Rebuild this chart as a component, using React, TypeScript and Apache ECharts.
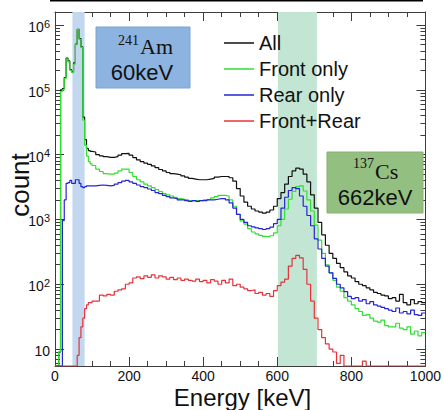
import React, { useEffect, useRef } from "react";
import * as echarts from "echarts";

// ---------- data ----------
const seriesNames = ["All", "Front only", "Rear only", "Front+Rear"];
const seriesColors = ["#111111", "#2fe02f", "#2424d6", "#e8323a"];

// histogram bin starts (keV): 5 keV bins below 100 keV, 10 keV bins above
const fineBinStarts = [0, 5, 10, 15, 20, 25, 30, 35, 40, 45, 50, 55, 60, 65, 70, 75, 80, 85, 90, 95];
const coarseBinStarts = Array.from({ length: 90 }, (_, i) => 100 + 10 * i);
const binStartKeV = [...fineBinStarts, ...coarseBinStarts];
const histEndKeV = 1000;

const allCounts = [
  0, 0, 9, 1.0e5, 1.05e5, 1.55e5, 3.1e5, 2.8e5, 2.05e5, 1.9e5, 2.6e5, 5.1e5, 8.6e5, 6.2e5, 4.6e5, 3.8e4, 1.7e4, 1.25e4, 1.15e4, 1.12e4,
  1.1e4, 1.0e4, 9.6e3, 9.3e3, 9.1e3, 9.1e3, 9.3e3, 9.8e3, 1.04e4, 1.05e4,
  9.8e3, 9.0e3, 8.3e3, 7.8e3, 7.4e3, 7.1e3, 6.7e3, 6.3e3, 5.9e3, 5.6e3,
  5.3e3, 5.1e3, 5.0e3, 4.9e3, 4.7e3, 4.5e3, 4.3e3, 4.2e3, 4.1e3, 4.1e3,
  4.1e3, 4.2e3, 4.3e3, 4.5e3, 4.6e3, 4.6e3, 4.6e3, 4.4e3, 3.9e3, 3.0e3,
  2.3e3, 1.85e3, 1.6e3, 1.45e3, 1.35e3, 1.3e3, 1.25e3, 1.3e3, 1.4e3, 1.6e3,
  2.1e3, 2.6e3, 3.5e3, 4.6e3, 5.6e3, 6.2e3, 6.0e3, 5.0e3, 3.8e3, 2.4e3,
  1.5e3, 900, 580, 400, 300, 250, 210, 180, 155, 135,
  125, 110, 100, 95, 88, 82, 75, 72, 68, 66,
  60, 62, 55, 70, 52, 48, 58, 50, 54, 52,
];

const frontOnly = [
  0, 0, 9, 9.5e4, 1.0e5, 1.5e5, 3.0e5, 2.7e5, 2.0e5, 1.85e5, 2.5e5, 5.0e5, 8.5e5, 6.0e5, 4.5e5, 3.4e4, 1.4e4, 9.5e3, 7.8e3, 7.2e3,
  6.8e3, 6.0e3, 5.5e3, 5.1e3, 5.0e3, 5.0e3, 5.2e3, 5.6e3, 6.0e3, 6.0e3,
  5.3e3, 4.6e3, 4.1e3, 3.8e3, 3.5e3, 3.3e3, 3.1e3, 2.9e3, 2.7e3, 2.5e3,
  2.4e3, 2.3e3, 2.2e3, 2.1e3, 2.05e3, 2.0e3, 1.95e3, 1.95e3, 1.95e3, 1.95e3,
  2.0e3, 2.05e3, 2.15e3, 2.25e3, 2.35e3, 2.35e3, 2.3e3, 2.0e3, 1.6e3, 1.2e3,
  950, 850, 720, 640, 600, 570, 550, 540, 560, 620,
  800, 1.0e3, 1.45e3, 2.05e3, 2.7e3, 3.2e3, 3.3e3, 2.75e3, 2.0e3, 1.35e3,
  820, 480, 300, 200, 150, 115, 90, 78, 62, 55,
  48, 42, 38, 33, 34, 30, 27, 26, 28, 23,
  22, 22, 25, 21, 20, 22, 17, 19, 16, 18,
];

const rearOnly = [
  0, 0, 0, 0, 960, 2.0e3, 3.6e3, 3.7e3, 4.0e3, 3.6e3, 3.6e3, 4.1e3, 4.1e3, 3.6e3, 3.2e3, 3.1e3, 3.2e3, 3.3e3, 3.3e3, 3.3e3,
  3.3e3, 3.35e3, 3.4e3, 3.35e3, 3.3e3, 3.35e3, 3.5e3, 3.7e3, 3.9e3, 4.0e3,
  3.8e3, 3.6e3, 3.4e3, 3.2e3, 3.1e3, 2.95e3, 2.8e3, 2.6e3, 2.5e3, 2.35e3,
  2.25e3, 2.15e3, 2.1e3, 2.0e3, 2.0e3, 1.95e3, 1.9e3, 1.95e3, 1.9e3, 1.95e3,
  1.95e3, 2.0e3, 2.0e3, 2.05e3, 2.1e3, 2.1e3, 2.0e3, 1.8e3, 1.5e3, 1.2e3,
  1.0e3, 900, 800, 770, 740, 720, 700, 720, 760, 860,
  1.0e3, 1.5e3, 2.2e3, 2.8e3, 3.1e3, 3.0e3, 2.3e3, 1.6e3, 1.15e3, 800,
  500, 350, 250, 190, 150, 123, 100, 88, 77, 65,
  60, 62, 55, 58, 50, 54, 48, 46, 44, 42,
  40, 38, 43, 36, 38, 35, 40, 34, 33, 36,
];

const frontRear = [
  0, 0, 0, 0, 0, 0, 0, 0, 0, 0, 0, 0, 8, 15, 22, 30, 42, 48, 52, 52,
  55, 55, 68, 66, 70, 68, 78, 82, 85, 100,
  105, 125, 130, 122, 135, 128, 140, 125, 135, 130,
  120, 128, 118, 125, 115, 120, 115, 112, 120, 110,
  115, 105, 118, 112, 100, 115, 105, 120, 95, 100,
  90, 85, 80, 82, 72, 75, 68, 72, 65, 80,
  95, 108, 120, 190, 250, 280, 255, 170, 100, 55,
  30, 20, 15, 12, 10, 9, 6, 8, 0, 0,
  0, 0, 0, 6.5, 0, 0, 0, 0, 0, 0,
  0, 0, 0, 0, 0, 0, 0, 0, 0, 0,
];

const seriesValues = [allCounts, frontOnly, rearOnly, frontRear];

// highlighted energy windows (keV)
const amWindow = [47, 80];
const csWindow = [602, 707];

// axis ranges and ticks
const yMin = Math.pow(10, 0.7385);
const yMax = Math.pow(10, 6.2015);
const decadeTicks = [10, 100, 1000, 10000, 100000, 1000000];
const minorTicks: number[] = [];
for (let p = 0; p <= 6; p++) {
  for (let k = 2; k <= 9; k++) {
    const v = k * Math.pow(10, p);
    if (v > yMin && v < yMax) minorTicks.push(v);
  }
}
const xTickLabels = [0, 200, 400, 600, 800, 1000];

// ---------- helpers ----------
const SANS = "'Liberation Sans', Arial, Helvetica, sans-serif";
const SERIF = "'Liberation Serif', 'Times New Roman', serif";
const AXIS_COLOR = "#3c3c3c";
const TEXT_COLOR = "#111111";

function toStep(values: number[]) {
  const shown = (v: number) => (v > 0 ? v : yMin);
  const pts = binStartKeV.map((e, i) => [e, shown(values[i])]);
  pts.push([histEndKeV, shown(values[values.length - 1])]);
  return pts;
}

function yLabel(v: number) {
  const p = Math.round(Math.log10(v));
  if (Math.abs(Math.log10(v) - p) > 1e-6) return "";
  return p === 1 ? "{b|10}" : `{b|10}{s|${p}}`;
}

export default function App() {
  const ref = useRef<HTMLDivElement>(null);

  useEffect(() => {
    if (!ref.current) return;
    const chart = echarts.init(ref.current, null, { renderer: "svg" });

    const xBase: any = {
      type: "value",
      min: 0,
      max: 1000,
      interval: 200,
      gridIndex: 0,
      splitLine: { show: false },
      axisLine: { show: true, onZero: false, lineStyle: { color: AXIS_COLOR, width: 1 } },
      axisTick: { show: true, inside: true, length: 9, lineStyle: { color: AXIS_COLOR } },
      minorTick: { show: true, splitNumber: 4, length: 5, lineStyle: { color: AXIS_COLOR } },
    };

    const yBase: any = {
      type: "log",
      logBase: 10,
      min: yMin,
      max: yMax,
      gridIndex: 0,
      splitLine: { show: false },
      minorTick: { show: false },
      minorSplitLine: { show: false },
    };

    const tickLine = { color: AXIS_COLOR, width: 1 };

    const option: any = {
      animation: false,
      backgroundColor: "#ffffff",
      grid: { left: 55, right: 15, top: 12, bottom: 44 },
      xAxis: [
        {
          ...xBase,
          position: "bottom",
          axisLabel: {
            show: true,
            margin: 3,
            fontSize: 14,
            fontFamily: SANS,
            color: TEXT_COLOR,
            customValues: xTickLabels,
            formatter: (v: number) => String(Math.round(v)),
          },
        },
        { ...xBase, position: "top", axisLabel: { show: false } },
      ],
      yAxis: [
        {
          ...yBase,
          position: "left",
          axisLine: { show: true, lineStyle: tickLine },
          axisTick: { show: true, inside: true, length: 9, lineStyle: tickLine, customValues: decadeTicks },
          axisLabel: {
            show: true,
            margin: 5,
            customValues: decadeTicks,
            formatter: yLabel,
            rich: {
              b: { fontSize: 14, fontFamily: SANS, color: TEXT_COLOR, lineHeight: 14, padding: [4, 0, 0, 0] },
              s: { fontSize: 11, fontFamily: SANS, color: TEXT_COLOR, lineHeight: 11, verticalAlign: "top" },
            },
          },
        },
        {
          ...yBase,
          position: "left",
          axisLine: { show: false },
          axisTick: { show: true, inside: true, length: 5, lineStyle: tickLine, customValues: minorTicks },
          axisLabel: { show: false },
        },
        {
          ...yBase,
          position: "right",
          axisLine: { show: true, lineStyle: tickLine },
          axisTick: { show: true, inside: true, length: 9, lineStyle: tickLine, customValues: decadeTicks },
          axisLabel: { show: false },
        },
        {
          ...yBase,
          position: "right",
          axisLine: { show: false },
          axisTick: { show: true, inside: true, length: 5, lineStyle: tickLine, customValues: minorTicks },
          axisLabel: { show: false },
        },
      ],
      legend: {
        data: seriesNames,
        orient: "vertical",
        left: 224,
        top: 33,
        padding: 0,
        itemWidth: 30,
        itemHeight: 1.5,
        itemGap: 6,
        icon: "rect",
        selectedMode: false,
        textStyle: { fontSize: 20, fontFamily: SANS, color: TEXT_COLOR, padding: [0, 0, 0, 0] },
      },
      series: seriesNames.map((name, k) => ({
        name,
        type: "line",
        step: "end",
        xAxisIndex: 0,
        yAxisIndex: 0,
        showSymbol: false,
        symbol: "none",
        silent: true,
        color: seriesColors[k],
        lineStyle: { color: seriesColors[k], width: 1.2 },
        data: toStep(seriesValues[k]),
        z: 3 + k,
        ...(k === 0
          ? {
              markArea: {
                silent: true,
                label: { show: false },
                data: [
                  [
                    { xAxis: amWindow[0], itemStyle: { color: "#c3d8ee", opacity: 1 } },
                    { xAxis: amWindow[1] },
                  ],
                  [
                    { xAxis: csWindow[0], itemStyle: { color: "#c2e6d3", opacity: 1 } },
                    { xAxis: csWindow[1] },
                  ],
                ],
              },
            }
          : {}),
      })),
      graphic: [
        { type: "rect", shape: { x: 50, y: 0, width: 373, height: 1.6 }, style: { fill: "#000000" } },
        {
          type: "rect",
          z: 10,
          shape: { x: 96, y: 27, width: 94, height: 61 },
          style: { fill: "#8db3e0", stroke: "#7ba2d2", lineWidth: 1 },
        },
        {
          type: "text",
          z: 11,
          x: 139,
          y: 40,
          style: { text: "241", fontSize: 14, fontFamily: SERIF, fill: TEXT_COLOR, align: "right", verticalAlign: "middle" },
        },
        {
          type: "text",
          z: 11,
          x: 140,
          y: 46,
          style: { text: "Am", fontSize: 22, fontFamily: SERIF, fill: TEXT_COLOR, align: "left", verticalAlign: "middle" },
        },
        {
          type: "text",
          z: 11,
          x: 142,
          y: 72.5,
          style: { text: "60keV", fontSize: 22, fontFamily: SANS, fill: TEXT_COLOR, align: "center", verticalAlign: "middle" },
        },
        {
          type: "rect",
          z: 10,
          shape: { x: 327, y: 152, width: 96, height: 61 },
          style: { fill: "#93bf80", stroke: "#86b373", lineWidth: 1 },
        },
        {
          type: "text",
          z: 11,
          x: 374,
          y: 163,
          style: { text: "137", fontSize: 14, fontFamily: SERIF, fill: TEXT_COLOR, align: "right", verticalAlign: "middle" },
        },
        {
          type: "text",
          z: 11,
          x: 375,
          y: 171,
          style: { text: "Cs", fontSize: 22, fontFamily: SERIF, fill: TEXT_COLOR, align: "left", verticalAlign: "middle" },
        },
        {
          type: "text",
          z: 11,
          x: 375,
          y: 197,
          style: { text: "662keV", fontSize: 22, fontFamily: SANS, fill: TEXT_COLOR, align: "center", verticalAlign: "middle" },
        },
        {
          type: "text",
          x: 20,
          y: 185,
          rotation: Math.PI / 2,
          style: { text: "count", fontSize: 26, fontFamily: SANS, fill: TEXT_COLOR, align: "center", verticalAlign: "middle" },
        },
        {
          type: "text",
          x: 242.5,
          y: 397.5,
          style: { text: "Energy [keV]", fontSize: 24, fontFamily: SANS, fill: TEXT_COLOR, align: "center", verticalAlign: "middle" },
        },
      ],
    };

    chart.setOption(option);
    return () => chart.dispose();
  }, []);

  return (
    <div
      ref={ref}
      style={{ position: "absolute", left: 0, top: 0, width: 444, height: 410 }}
    />
  );
}
